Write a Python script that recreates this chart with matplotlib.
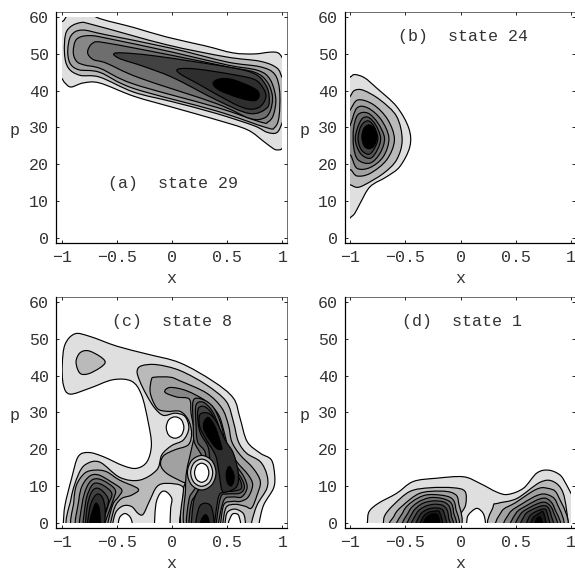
import matplotlib
matplotlib.use('Agg')
import matplotlib.pyplot as plt
from matplotlib.path import Path
from matplotlib.patches import PathPatch, Rectangle

# contour outlines, (x, p) pairs, outermost first
# the number is the contour level, points past the plot range get clipped
state29 = [
    (1, [(-1.05,57.5),(-.99,59),(-.96,60.3),(-.9,62.5),(-.72,62.5),(-.69,60),(-.35,57.2),(-.05,54.6),(.3,52.2),(.55,50.3),(.74,50),(.89,50.5),(.96,50.3),(1,48.9),(1.06,45),(1.06,28),(1,24.4),(.96,23.9),(.92,24.2),(.83,26.2),(.68,29.4),(.4,32.1),(0,35.5),(-.35,38.5),(-.66,42.1),(-.81,42.1),(-.92,41),(-.975,42.1),(-1,43.2),(-1.06,46)]),
    (2, [(1.05,36),(1,31.4),(.95,28.6),(.86,28.7),(.74,30.5),(.4,33.8),(0,37),(-.35,39.6),(-.66,43.7),(-.84,44.2),(-.945,46.2),(-.98,50.3),(-.96,56.2),(-.84,58.5),(-.69,57.7),(-.05,52.5),(.49,49.2),(.8,48),(.95,46.2),(1,43.5),(1.05,41)]),
    (3, [(-.95,51),(-.92,55),(-.82,56.5),(-.6,55.2),(0,51.5),(.5,47.8),(.8,46.5),(.93,44.5),(.975,40),(.97,33),(.93,30),(.85,30),(.4,34.5),(-.35,40.6),(-.66,45),(-.85,45.7),(-.93,47.5)]),
    (4, [(-.9,50.5),(-.87,54),(-.75,55),(-.55,54),(0,50.5),(.5,47),(.78,45.5),(.89,43),(.94,38),(.92,33.5),(.87,31.5),(.8,31.5),(.4,35.5),(-.35,41.8),(-.65,46),(-.8,47),(-.87,48)]),
    (5, [(-.77,50.5),(-.72,53),(-.6,53),(0,49.6),(.5,46.5),(.75,45),(.86,42.5),(.91,38.5),(.89,34.5),(.83,32.5),(.7,32.5),(.4,36.5),(-.3,43.5),(-.6,47.5),(-.72,48.5)]),
    (7, [(-.5,50.3),(-.14,49.4),(.55,46.2),(.76,44.4),(.85,41.5),(.88,38.5),(.86,35.3),(.7,33.8),(.4,37.5),(.01,43.5),(-.26,46.6),(-.49,48.9)]),
    (8, [(.055,45.9),(.22,45.9),(.55,44.4),(.75,43),(.83,40.5),(.85,38.2),(.8,35.7),(.7,35),(.55,36.6),(.25,41.6),(.07,44.6)]),
    (10, [(.37,42),(.43,43.2),(.55,43),(.74,40.7),(.79,38.9),(.75,37.3),(.615,38),(.43,40.1)]),
]

state24 = [
    (1, [(-1.05,4.5),(-1,5.5),(-.96,6.6),(-.91,9.4),(-.82,13.9),(-.67,16.6),(-.55,19.4),(-.46,24.8),(-.47,29.8),(-.58,35.7),(-.76,40.7),(-.87,43.5),(-.96,44.4),(-1,43.7),(-1.05,43)]),
    (2, [(-1.05,14.8),(-1,14.4),(-.94,13.7),(-.87,14.4),(-.7,17.5),(-.58,21.2),(-.53,26.6),(-.58,33),(-.73,37.5),(-.88,40.1),(-.96,40.1),(-1,38.5),(-1.05,36)]),
    (3, [(-1.05,17),(-1,18.5),(-.94,16.8),(-.82,17.5),(-.67,21.2),(-.6,26.6),(-.66,32.1),(-.79,36.2),(-.93,37.5),(-1,34.8),(-1.05,32)]),
    (4, [(-1.05,21),(-1,22.5),(-.94,18.9),(-.82,19.1),(-.7,22.1),(-.65,27.1),(-.72,32.1),(-.84,35.3),(-.94,35.3),(-1,30.7),(-1.05,28)]),
    (5, [(-.97,24.8),(-.93,21.2),(-.82,20.3),(-.73,23),(-.69,27.1),(-.75,31.2),(-.84,33.9),(-.93,33.5),(-.97,29.8)]),
    (6, [(-.955,27.1),(-.91,23),(-.82,21.6),(-.755,23.9),(-.725,27.1),(-.77,30.7),(-.84,32.8),(-.905,31.9)]),
    (7, [(-.93,27.1),(-.9,23.9),(-.83,22.7),(-.78,24.4),(-.75,27.1),(-.785,30.3),(-.84,31.8),(-.9,30.5)]),
    (10, [(-.895,27.4),(-.875,25),(-.83,24.2),(-.785,25),(-.76,27.4),(-.785,29.8),(-.83,30.7),(-.875,29.8)]),
]

state8 = [
    (1, [(-.99,-2),(-.99,0),(-.975,4.8),(-.915,12.1),(-.855,18),(-.76,19.1),(-.63,18),(-.445,15.5),(-.325,14.8),(-.23,16.6),(-.19,21.2),(-.22,27.5),(-.28,34.8),(-.37,38.5),(-.54,38.9),(-.75,36.6),(-.93,35),(-.99,37.5),(-1,43),(-.975,48.5),(-.885,51.4),(-.75,50.7),(-.5,48),(-.23,45.9),(.07,43.5),(.37,38.5),(.555,33.9),(.615,28.5),(.68,22.1),(.8,18.9),(.9,17.1),(.93,13),(.92,9.4),(.83,4.8),(.79,0),(.79,-2)]),
    (0, [(-.49,-2),(-.49,0),(-.475,1.6),(-.43,2.5),(-.385,1.6),(-.365,0),(-.365,-2)]),
    (0, [(-.15,-2),(-.15,4.8),(-.11,8),(-.06,8.5),(-.005,6.6),(-.015,3.9),(-.02,0),(-.02,-2)]),
    (0, [(.51,-2),(.51,0),(.54,2.1),(.565,2.5),(.6,2.1),(.62,0),(.62,-2)]),
    (0, [(.105,25.9),(.082,28),(.025,28.8),(-.032,28),(-.055,25.9),(-.032,23.8),(.025,23),(.082,23.8)]),
    (2, [(-.875,43.7),(-.84,46.2),(-.765,46.8),(-.66,45.3),(-.61,43.7),(-.66,42.1),(-.765,40.5),(-.84,40.7)]),
    (2, [(-.94,-2),(-.92,6.6),(-.855,13),(-.785,15.9),(-.66,16.5),(-.475,12.3),(-.295,11.6),(-.14,14.4),(-.095,18.5),(-.005,21),(.1,22.5),(.15,25.7),(.115,28.9),(.025,29.8),(-.08,29.2),(-.16,31.2),(-.235,34.8),(-.295,38.5),(-.32,41.2),(-.28,42.7),(-.14,43),(.07,41.4),(.31,37.5),(.49,33),(.555,27.5),(.6,22.1),(.675,18.9),(.8,16.6),(.86,13),(.86,9.4),(.77,4.8),(.72,0),(.72,-2),(.67,-2),(.665,0),(.645,2.5),(.57,3.7),(.5,2.8),(.48,0),(.48,-2),(.095,-2),(.095,5.7),(.094,9.8),(-.05,10.7),(-.14,9.8),(-.21,5.7),(-.265,2.3),(-.31,2.5),(-.37,4.4),(-.445,4.6),(-.51,3),(-.54,0),(-.54,-2)]),
    (3, [(-.9,-2),(-.895,5.7),(-.87,10.3),(-.795,13.5),(-.705,14.3),(-.6,13.9),(-.48,11.6),(-.31,9.2),(-.37,7.5),(-.46,6.6),(-.52,4.4),(-.56,0),(-.56,-2)]),
    (4, [(-.865,-2),(-.85,6),(-.82,10),(-.75,12.7),(-.67,13),(-.56,11.2),(-.46,9),(-.49,7),(-.54,5),(-.585,0),(-.585,-2)]),
    (5, [(-.83,-2),(-.82,5),(-.78,9.5),(-.72,11.8),(-.63,11.5),(-.52,9),(-.54,6),(-.61,0),(-.61,-2)]),
    (6, [(-.8,-2),(-.79,5),(-.76,8.5),(-.71,10.7),(-.63,10.2),(-.55,8),(-.58,5),(-.63,0),(-.63,-2)]),
    (7, [(-.78,-2),(-.775,4),(-.74,8),(-.69,9.4),(-.63,8.5),(-.58,6),(-.62,2),(-.645,0),(-.645,-2)]),
    (8, [(-.765,-2),(-.75,4),(-.71,7),(-.67,7.8),(-.63,6.5),(-.61,3),(-.635,-2)]),
    (10, [(-.75,-2),(-.745,1),(-.71,4.5),(-.69,5.3),(-.665,4),(-.655,1),(-.655,-2)]),
    (3, [(-.16,39.6),(-.02,39.6),(.07,38.6),(.31,35.3),(.45,31.2),(.51,26.6),(.54,22.1),(.615,18.5),(.735,14.8),(.8,11.2),(.77,7.5),(.72,4),(.66,4.5),(.57,5),(.49,4.2),(.46,0),(.46,-2),(.1,-2),(.1,8.5),(.115,10.7),(.085,11.2),(-.05,13.4),(-.106,15.7),(-.08,18.2),(.02,19.8),(.145,21.2),(.175,24.4),(.145,28),(.07,30.3),(-.05,30.3),(-.14,31.2),(-.2,35.3),(-.19,38.9)]),
    (4, [(-.067,35.5),(-.02,36.8),(.13,35.9),(.31,33),(.42,29.4),(.47,24.8),(.51,20.3),(.585,16.6),(.69,13),(.73,10.3),(.69,7),(.62,5.8),(.55,5.8),(.47,5),(.44,0),(.44,-2),(.124,-2),(.12,9),(.13,14),(.176,20.3),(.2,24.4),(.17,29.8),(.155,33.6),(.04,34.2)]),
    (5, [(.19,33.2),(.27,33.6),(.37,31.5),(.44,27),(.49,21),(.56,16.5),(.65,12.5),(.68,9.5),(.63,7),(.55,7),(.47,6.2),(.42,0),(.42,-2),(.15,-2),(.15,6),(.2,9),(.3,13),(.27,18),(.2,22),(.19,27)]),
    (6, [(.215,32),(.28,32.8),(.36,30.5),(.42,26.5),(.47,20.5),(.54,16),(.63,12),(.655,9.5),(.61,8),(.5,7.8),(.44,7),(.4,0),(.4,-2),(.17,-2),(.17,5),(.22,8),(.3,13),(.3,19),(.23,22),(.215,27)]),
    (7, [(.235,31),(.3,31.5),(.38,28.5),(.45,21.5),(.52,16.5),(.61,12),(.63,9.5),(.58,8.7),(.47,8.3),(.42,7),(.385,0),(.385,-2),(.19,-2),(.19,5),(.23,8.5),(.33,13),(.33,20),(.26,24),(.235,27)]),
    (8, [(.25,29.4),(.327,29.8),(.4,27.5),(.48,22.5),(.555,18.9),(.6,13.5),(.585,9.8),(.495,8.4),(.45,8.9),(.42,14.5),(.39,18.5),(.3,23),(.25,26.1)]),
    (8, [(.22,-2),(.24,3.9),(.3,5.3),(.36,3.9),(.37,-2)]),
    (10, [(.25,-2),(.26,.5),(.3,2.2),(.33,.8),(.335,-2)]),
    (10, [(.29,27.5),(.33,28.6),(.39,26),(.44,21.5),(.45,20),(.4,20.3),(.33,23),(.285,25.5)]),
    (10, [(.49,13.5),(.52,15.3),(.56,13),(.555,11),(.53,10),(.5,11)]),
    (2, [(.397,13.6),(.359,16.9),(.267,18.3),(.175,16.9),(.137,13.6),(.175,10.3),(.267,8.9),(.359,10.3)]),
    (1, [(.367,13.6),(.338,16.2),(.267,17.3),(.196,16.2),(.167,13.6),(.196,11),(.267,9.9),(.338,11)]),
    (0, [(.332,13.6),(.313,15.44),(.267,16.2),(.221,15.44),(.202,13.6),(.221,11.76),(.267,11),(.313,11.76)]),
]

state1 = [
    (1, [(-.85,-2),(-.845,0),(-.83,3),(-.745,5.3),(-.58,8),(-.43,11.2),(-.22,12.1),(.025,12.5),(.175,10.7),(.33,8.3),(.43,7.7),(.57,9.4),(.69,13.5),(.795,14.3),(.9,13),(.96,10.3),(1,8),(1.06,5),(1.06,-2)]),
    (0, [(.055,-2),(.055,0),(.07,2.1),(.145,3.9),(.205,2.5),(.225,0),(.225,-2)]),
    (2, [(-.7,-2),(-.7,0),(-.685,2.1),(-.61,4.8),(-.46,8.5),(-.28,9.5),(-.065,9.5),(.04,8.5),(.045,4.8),(-.005,2.1),(-.02,0),(-.02,-2)]),
    (3, [(-.615,-2),(-.6,2),(-.52,4.8),(-.37,8),(-.19,8.6),(-.065,8),(-.02,5.7),(-.035,-2)]),
    (4, [(-.555,-2),(-.52,3),(-.44,5.7),(-.32,7.5),(-.18,7.5),(-.08,6.6),(-.045,4),(-.05,-2)]),
    (5, [(-.51,-2),(-.47,3),(-.39,5.5),(-.28,6.8),(-.17,6.6),(-.09,5.5),(-.065,3),(-.07,-2)]),
    (6, [(-.47,-2),(-.44,2.5),(-.36,5),(-.26,5.9),(-.16,5.7),(-.105,4.5),(-.085,2),(-.09,-2)]),
    (7, [(-.44,-2),(-.4,2.5),(-.33,4.3),(-.25,5),(-.17,4.8),(-.125,3.6),(-.11,1.5),(-.115,-2)]),
    (8, [(-.4,-2),(-.37,2),(-.31,3.5),(-.25,4),(-.18,3.8),(-.15,2.6),(-.14,-2)]),
    (9, [(-.37,-2),(-.34,1.5),(-.29,2.8),(-.24,3.1),(-.19,2.8),(-.17,-2)]),
    (10, [(-.34,-2),(-.32,1),(-.27,2.2),(-.23,2.4),(-.2,1.5),(-.195,-2)]),
    (2, [(.295,-2),(.295,4.4),(.34,5.3),(.51,6.6),(.72,11),(.84,11.2),(.93,8),(.975,0),(.975,-2)]),
    (3, [(.36,-2),(.37,3),(.5,5.5),(.68,9),(.78,9.4),(.88,7.5),(.945,-2)]),
    (4, [(.42,-2),(.44,2.5),(.56,5.2),(.7,7.5),(.79,7.6),(.87,5.5),(.91,-2)]),
    (5, [(.47,-2),(.5,2.5),(.6,4.7),(.72,6.5),(.79,6.4),(.85,4),(.885,-2)]),
    (6, [(.51,-2),(.54,2.2),(.63,4.2),(.73,5.5),(.79,5.2),(.84,3),(.86,-2)]),
    (7, [(.55,-2),(.58,2),(.65,3.6),(.74,4.6),(.79,4.2),(.82,2),(.83,-2)]),
    (8, [(.6,-2),(.62,1.5),(.68,3),(.75,3.7),(.78,3),(.8,-2)]),
    (9, [(.635,-2),(.65,1),(.7,2.3),(.75,2.8),(.77,-2)]),
    (10, [(.67,-2),(.68,.5),(.71,1.6),(.735,.8),(.74,-2)]),
]

x_ticks = [-1, -0.5, 0, 0.5, 1]
x_labels = ['\u22121', '\u22120.5', '0', '0.5', '1']
p_ticks = [0, 10, 20, 30, 40, 50, 60]
titles = ['(a)  state 29', '(b)  state 24', '(c)  state 8', '(d)  state 1']
title_pos = [(0.01, 14.8), (0.02, 54.8), (0.0, 54.8), (0.01, 54.8)]

# grey for each contour level, 0 is white
greys = {0: '1.0', 1: '0.875', 2: '0.73', 3: '0.63', 4: '0.53', 5: '0.43',
         6: '0.34', 7: '0.26', 8: '0.18', 9: '0.1', 10: '0.0'}


def smooth_path(pts):
    # closed curve through the read points (Catmull-Rom to bezier)
    n = len(pts)
    verts = [pts[0]]
    codes = [Path.MOVETO]
    for i in range(n):
        p0, p1, p2, p3 = pts[i - 1], pts[i], pts[(i + 1) % n], pts[(i + 2) % n]
        verts.append((p1[0] + (p2[0] - p0[0]) / 6, p1[1] + (p2[1] - p0[1]) / 6))
        verts.append((p2[0] - (p3[0] - p1[0]) / 6, p2[1] - (p3[1] - p1[1]) / 6))
        verts.append(p2)
        codes += [Path.CURVE4] * 3
    return Path(verts, codes)


def draw_panel(box, xlim, contours, title, pos):
    W, H = 575, 570
    left, right, top, bottom = box
    ax = fig.add_axes([left / W, 1 - bottom / H, (right - left) / W, (bottom - top) / H])
    clip = Rectangle((-1, 0), 2, 60, transform=ax.transData)
    for level, pts in contours:
        patch = PathPatch(smooth_path(pts), facecolor=greys[level], edgecolor='black', lw=0.85)
        ax.add_patch(patch)
        patch.set_clip_path(clip)
    ax.set_xlim(xlim)
    ax.set_ylim(-1.36, 61.5)
    ax.set_xticks(x_ticks)
    ax.set_xticklabels(x_labels)
    ax.set_yticks(p_ticks)
    ax.tick_params(direction='in', length=2, width=0.6, top=True, right=True,
                   labelsize=12, labelcolor='#333333', pad=5)
    ax.set_xlabel('x', fontsize=12, color='#333333', labelpad=4.5)
    ax.set_ylabel('p', fontsize=12, color='#333333', rotation=0)
    ax.yaxis.set_label_coords(-0.178, 0.455)
    for side in ['top', 'right']:
        ax.spines[side].set_linewidth(0.4)
    for side in ['left', 'bottom']:
        ax.spines[side].set_linewidth(0.9)
    ax.text(pos[0], pos[1], title, fontsize=12, color='#333333', ha='center', va='center')


plt.rcParams['font.family'] = ['Liberation Mono', 'DejaVu Sans']
fig = plt.figure(figsize=(5.75, 5.70), dpi=100)

draw_panel((56, 287.3, 11.7, 242.7), (-1.057, 1.045), state29, titles[0], title_pos[0])
draw_panel((345, 574.5, 11.7, 242.7), (-1.048, 1.032), state24, titles[1], title_pos[1])
draw_panel((56, 287.3, 296.7, 527.7), (-1.057, 1.045), state8, titles[2], title_pos[2])
draw_panel((345, 574.5, 296.7, 527.7), (-1.048, 1.032), state1, titles[3], title_pos[3])

fig.savefig('out.png', dpi=100)
